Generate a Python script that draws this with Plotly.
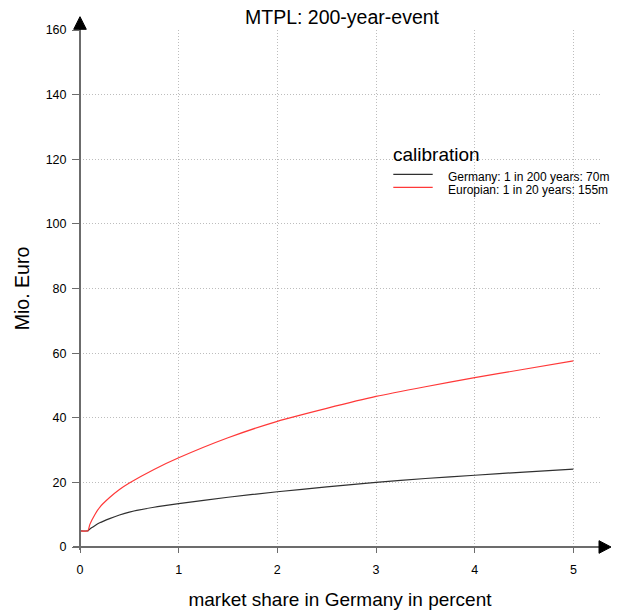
import plotly.graph_objects as go

# market share in Germany (percent)
share = [0, 0.08, 0.1, 0.15, 0.2, 0.3, 0.4, 0.5, 0.75, 1, 1.5, 2, 2.5, 3, 3.5, 4, 4.5, 5]
# 200-year event loss, Mio. Euro, per calibration
germany = [5, 5, 5.6, 6.6, 7.5, 8.8, 9.9, 10.8, 12.3, 13.4, 15.4, 17.1, 18.6, 20.0, 21.2, 22.2, 23.2, 24.1]
european = [5, 5, 7.0, 10.0, 12.3, 15.3, 17.8, 19.8, 24.0, 27.6, 33.8, 38.9, 42.9, 46.6, 49.6, 52.4, 55.0, 57.6]

series_names = ["Germany: 1 in 200 years: 70m", "Europian: 1 in 20 years: 155m"]
series_colors = ["#303030", "#ff3838"]
legend_title = "calibration"

x_ticks = [0, 1, 2, 3, 4, 5]
y_ticks = [0, 20, 40, 60, 80, 100, 120, 140, 160]

FONT = "Liberation Sans, Arial, sans-serif"
AXIS_GRAY = "#6c6c6c"
GRID_GRAY = "#bdbdbd"

# plot frame in pixels (used to place the hand-drawn legend)
L, R, T, B = 80, 600, 30, 547
W, H = 619, 611


def px(xp):
    return (xp - L) / (R - L)


def py(yp):
    return (B - yp) / (B - T)


fig = go.Figure()
for name, vals, col in zip(series_names, [germany, european], series_colors):
    fig.add_trace(go.Scatter(
        x=share, y=vals, mode="lines", name=name,
        line=dict(color=col, width=1.2, shape="spline", smoothing=0.5),
        showlegend=False,
    ))

fig.update_layout(
    width=W, height=H,
    margin=dict(l=L, r=W - R, t=T, b=H - B, autoexpand=False),
    paper_bgcolor="white", plot_bgcolor="white",
    font=dict(family=FONT, color="black", size=12.5),
    title=dict(text="MTPL: 200-year-event", x=342 / W,
               xanchor="center", y=1 - 24 / H, yanchor="bottom",
               font=dict(size=19.5)),
    xaxis=dict(
        range=[0, 5.27], tickvals=x_ticks, ticktext=[str(t) for t in x_ticks],
        showgrid=True, gridcolor=GRID_GRAY, griddash="1px,2px", gridwidth=1,
        zeroline=False, showline=False, automargin=False,
        ticks="outside", ticklen=5, tickcolor=AXIS_GRAY, tickwidth=1,
        ticklabelstandoff=6, tickfont=dict(size=12.5),
        title=dict(text="market share in Germany in percent",
                   font=dict(size=19), standoff=16),
    ),
    yaxis=dict(
        range=[0, 160], tickvals=y_ticks, ticktext=[str(t) for t in y_ticks],
        showgrid=True, gridcolor=GRID_GRAY, griddash="1px,2px", gridwidth=1,
        zeroline=False, showline=False, automargin=False,
        ticks="outside", ticklen=7, tickcolor=AXIS_GRAY, tickwidth=1,
        ticklabelstandoff=3, tickfont=dict(size=12.5),
        title=dict(text="Mio. Euro", font=dict(size=19.5), standoff=10),
    ),
)

# axis lines with arrow heads
fig.add_shape(type="line", xref="paper", yref="paper",
              x0=px(73), x1=px(600), y0=0, y1=0,
              line=dict(color=AXIS_GRAY, width=2))
fig.add_shape(type="line", xref="paper", yref="paper",
              x0=0, x1=0, y0=py(550), y1=py(29),
              line=dict(color=AXIS_GRAY, width=2))
fig.add_shape(type="path", xref="paper", yref="paper",
              path=f"M {px(599)} {py(B + 6.3)} L {px(611)} {py(B)} L {px(599)} {py(B - 6.3)} Z",
              fillcolor="black", line=dict(color="black", width=1))
fig.add_shape(type="path", xref="paper", yref="paper",
              path=f"M {px(L - 6.3)} {py(29.3)} L {px(L)} {py(16.7)} L {px(L + 6.3)} {py(29.3)} Z",
              fillcolor="black", line=dict(color="black", width=1))

# legend: title, line samples and labels
fig.add_annotation(text=legend_title, xref="paper", yref="paper",
                   x=px(391), y=py(154), xanchor="left", yanchor="middle",
                   showarrow=False, font=dict(size=19))
for i, (name, col) in enumerate(zip(series_names, series_colors)):
    yl = 174.3 + 13 * i
    fig.add_shape(type="line", xref="paper", yref="paper",
                  x0=px(393.3), x1=px(432.7), y0=py(yl), y1=py(yl),
                  line=dict(color=col, width=1.2))
    fig.add_annotation(text=name, xref="paper", yref="paper",
                       x=px(446), y=py(yl + 2.5), xanchor="left", yanchor="middle",
                       showarrow=False, font=dict(size=12))

fig.write_html("out.html")
